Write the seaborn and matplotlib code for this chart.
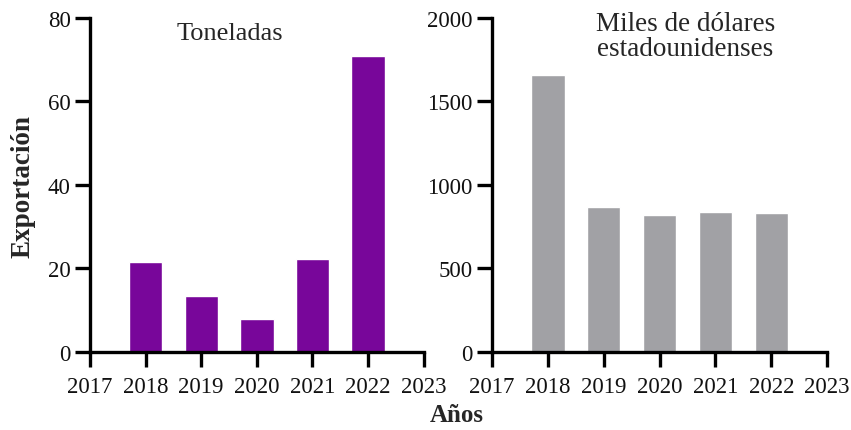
import matplotlib
matplotlib.use("Agg")
import matplotlib.pyplot as plt
import pandas as pd
import seaborn as sns

YEARS = [2018, 2019, 2020, 2021, 2022]
TONELADAS = [21.6, 13.3, 7.9, 22.2, 70.8]
MILES_USD = [1657, 866, 818, 840, 834]
X_TICKS = [2017, 2018, 2019, 2020, 2021, 2022, 2023]

PURPLE = "#78069A"
GRAY = "#A1A1A5"

sns.set_theme(style="ticks")
plt.rcParams["font.family"] = ["Liberation Serif", "DejaVu Serif"]
plt.rcParams["font.size"] = 16

df_ton = pd.DataFrame({"year": YEARS, "value": TONELADAS})
df_usd = pd.DataFrame({"year": YEARS, "value": MILES_USD})

fig = plt.figure(figsize=(8.51, 4.31), dpi=100)
ax1 = fig.add_axes([0.1058, 0.181, 0.392, 0.775])
ax2 = fig.add_axes([0.578, 0.181, 0.394, 0.775])


def style_axis(ax, ymax, yticks):
    ax.set_xlim(2017, 2023)
    ax.set_ylim(0, ymax)
    ax.set_xticks(X_TICKS)
    ax.set_xticklabels([str(t) for t in X_TICKS], fontsize=16.5)
    ax.set_yticks(yticks)
    ax.set_yticklabels([str(t) for t in yticks], fontsize=16.5)
    ax.set_xlabel("")
    ax.set_ylabel("")
    for side in ("top", "right"):
        ax.spines[side].set_visible(False)
    for side in ("left", "bottom"):
        ax.spines[side].set_linewidth(2.4)
        ax.spines[side].set_color("black")
    ax.tick_params(axis="both", length=11, width=2.4, color="black",
                   labelcolor="#111111", pad=3)
    ax.tick_params(axis="x", pad=6)


sns.barplot(data=df_ton, x="year", y="value", native_scale=True, width=0.6,
            color=PURPLE, saturation=1, ax=ax1)
style_axis(ax1, 80, [0, 20, 40, 60, 80])
ax1.text(0.42, 0.955, "Toneladas", transform=ax1.transAxes, ha="center",
         va="center", fontsize=19)

sns.barplot(data=df_usd, x="year", y="value", native_scale=True, width=0.6,
            color=GRAY, saturation=1, ax=ax2)
style_axis(ax2, 2000, [0, 500, 1000, 1500, 2000])
ax2.text(0.577, 0.946, "Miles de dólares\nestadounidenses", transform=ax2.transAxes,
         ha="center", va="center", fontsize=19.5, linespacing=1.05)

fig.text(0.027, 0.566, "Exportación", rotation=90, ha="center", va="center",
         fontsize=19.5, fontweight="bold")
fig.text(0.537, 0.037, "Años", ha="center", va="center",
         fontsize=18, fontweight="bold")

fig.savefig("out.png", dpi=100)
